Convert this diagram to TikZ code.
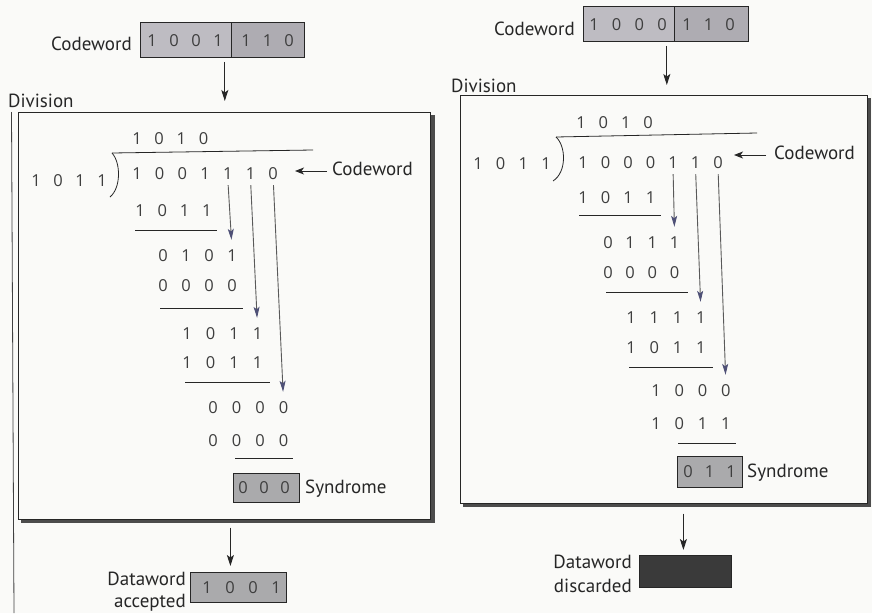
\documentclass[tikz,border=0pt]{standalone}
\usepackage{fontspec}
\setmainfont{PT Sans}
\newfontfamily\bitfont{Open Sans}
\usetikzlibrary{arrows.meta,calc}

\definecolor{paper}{RGB}{250,250,248}
\definecolor{ink}{RGB}{38,38,38}
\definecolor{digitink}{RGB}{62,62,62}
\definecolor{slate}{RGB}{78,80,118}
\definecolor{cellfill}{RGB}{190,188,194}
\definecolor{crcfill}{RGB}{174,172,178}
\definecolor{synfill}{RGB}{170,170,172}
\definecolor{dropfill}{RGB}{58,58,58}

% a row of bits, named <prefix>-1, <prefix>-2, ...
\newcommand\bitrow[5]{%
  \foreach \b [count=\k] in {#5}{\node[bit] (#1-\k) at ({#2+(\k-1)*#4},#3) {\b};}}

\begin{document}
\begin{tikzpicture}[x=1pt,y=-1pt,
  lbl/.style={font=\fontsize{19}{22}\selectfont, text=ink, inner sep=0pt},
  bit/.style={font=\bitfont\fontsize{16.5}{20}\selectfont, text=digitink, inner sep=0pt,
              text height=12pt, text depth=0pt},
  cell/.style={draw=ink, line width=0.8pt, fill=cellfill, inner sep=0pt},
  panel/.style={draw=ink, line width=1pt, inner sep=0pt},
  rim/.style={draw=black!70, line width=3.5pt},
  rule/.style={draw=ink, line width=0.8pt},
  flow/.style={draw=ink, line width=1pt, -{Stealth[length=11pt,width=7pt,inset=2.5pt]}},
  pointer/.style={draw=ink, line width=1pt, -{Stealth[length=9pt,width=7pt,inset=2.5pt]}},
  carry/.style={draw=black!65, line width=0.9pt, shorten <=6pt, shorten >=9pt,
                -{Stealth[length=11pt,width=6pt,inset=2.5pt,color=slate,fill=slate]}},
]
\fill[paper] (0,0) rectangle (872,613);
\useasboundingbox (0,0) rectangle (872,613);

% ================= left: codeword 1001110, no error =================
\node[lbl, anchor=base east] (Lcwlbl) at (132,50) {Codeword};
\node[cell, minimum width=91, minimum height=35, anchor=north west] (Lcw-data) at (140,22) {};
\node[cell, fill=crcfill, minimum width=73, minimum height=35, anchor=north west] (Lcw-crc) at (231,22) {};
\bitrow{Lcwd}{152}{40}{22}{1,0,0,1}
\bitrow{Lcwc}{246}{40}{21.5}{1,1,0}

\node[lbl, anchor=base west] (Ldivlbl) at (8,107) {Division};
\node[panel, minimum width=412.5, minimum height=406.5, anchor=north west] (Lframe) at (17.5,112) {};
\draw[rim] ($(Lframe.north east)+(2,3)$) -- ($(Lframe.south east)+(2,2)$) -- ($(Lframe.south west)+(3,2)$);
\coordinate (Lmargin) at (14,613);
\draw[black!75, line width=0.8pt] ($(Lframe.north west)+(-6,0)$) -- (Lmargin);

\draw[flow] ($(Lcw-data.south east)+(-7,4)$) -- ($(Lcw-data.south east |- Lframe.north)+(-7,-11)$);

% long division
\bitrow{Lq}{137}{138}{22.2}{1,0,1,0}
\bitrow{Ldr}{36}{180}{22}{1,0,1,1}
\bitrow{Ldv}{137}{173}{22.7}{1,0,0,1,1,1,0}
\draw[rule] (112,153) -- (313,150);
\draw[rule] (112,153) .. controls (121,163) and (121,188) .. (110,197);
\node[lbl, anchor=base west] (Lnote) at (332,175) {Codeword};
\draw[pointer] ($(Lnote.base west)+(-5,-4)$) -- ($(Lnote.base west)+(-37,-4)$);

\bitrow{L2}{140}{210}{22.3}{1,0,1,1}
\draw[rule] (135,230) -- (217,230);
\bitrow{L3}{163}{255}{23}{0,1,0,1}
\bitrow{L4}{163}{285}{23}{0,0,0,0}
\draw[rule] (160,308) -- (243,308);
\bitrow{L5}{187}{333}{23.5}{1,0,1,1}
\bitrow{L6}{187}{362}{23.5}{1,0,1,1}
\draw[rule] (185,382) -- (270,382);
\bitrow{L7}{213}{407}{23.5}{0,0,0,0}
\bitrow{L8}{213}{440}{23.5}{0,0,0,0}
\draw[rule] (235,458) -- (293,458);

\draw[carry] (Ldv-5.south) -- (L3-4.north);
\draw[carry] (Ldv-6.south) -- (L5-4.north);
\draw[carry] (Ldv-7.south) -- (L7-4.north);

\node[cell, fill=synfill, minimum width=66, minimum height=29] (Lsyn) at (266,487.5) {};
\bitrow{Ls}{243}{487}{21}{0,0,0}
\node[lbl, anchor=base west] (Lsynlbl) at (305,493) {Syndrome};

% result
\node[cell, fill=synfill, minimum width=96, minimum height=30, anchor=north west] (Ldw) at (190,572) {};
\bitrow{Ldwb}{207}{587}{23}{1,0,0,1}
\node[lbl, anchor=base east] (Ldwlbl1) at (186,585) {Dataword};
\node[lbl, anchor=base east] (Ldwlbl2) at (186,607) {accepted};
\draw[flow] ($(Lframe.south west -| Ldw.north)+(-8,8)$) -- ($(Ldw.north)+(-8,-6)$);

% ================= right: codeword 1000110, corrupted =================
\node[lbl, anchor=base east] (Rcwlbl) at (575,35) {Codeword};
\node[cell, minimum width=91, minimum height=35, anchor=north west] (Rcw-data) at (583,6) {};
\node[cell, fill=crcfill, minimum width=74, minimum height=35, anchor=north west] (Rcw-crc) at (674,6) {};
\bitrow{Rcwd}{594}{24}{22.7}{1,0,0,0}
\bitrow{Rcwc}{687}{24}{21.5}{1,1,0}

\node[lbl, anchor=base west] (Rdivlbl) at (451,92) {Division};
\node[panel, minimum width=407, minimum height=407.5, anchor=north west] (Rframe) at (459.5,95) {};
\draw[rim] ($(Rframe.north east)+(2,3)$) -- ($(Rframe.south east)+(2,2)$) -- ($(Rframe.south west)+(3,2)$);

\draw[flow] ($(Rcw-data.south east)+(-8,4)$) -- ($(Rcw-data.south east |- Rframe.north)+(-8,-10)$);

% long division
\bitrow{Rq}{581}{122}{22.4}{1,0,1,0}
\bitrow{Rdr}{478}{163}{22.7}{1,0,1,1}
\bitrow{Rdv}{583}{162}{22.5}{1,0,0,0,1,1,0}
\draw[rule] (556,137) -- (757,133);
\draw[rule] (556,137) .. controls (566,146) and (567,172) .. (553,181);
\node[lbl, anchor=base west] (Rnote) at (774,159) {Codeword};
\draw[pointer] ($(Rnote.base west)+(-8,-4)$) -- ($(Rnote.base west)+(-40,-4)$);

\bitrow{R2}{583}{197}{22.5}{1,0,1,1}
\draw[rule] (579,215) -- (661,215);
\bitrow{R3}{608}{242}{22.2}{0,1,1,1}
\bitrow{R4}{608}{272}{22.2}{0,0,0,0}
\draw[rule] (606,292) -- (688,292);
\bitrow{R5}{631}{317}{23.3}{1,1,1,1}
\bitrow{R6}{631}{347}{23.3}{1,0,1,1}
\draw[rule] (629,367) -- (713,367);
\bitrow{R7}{656}{390}{23.3}{1,0,0,0}
\bitrow{R8}{656}{423}{23.3}{1,0,1,1}
\draw[rule] (678,443) -- (736,443);

\draw[carry] (Rdv-5.south) -- (R3-4.north);
\draw[carry] (Rdv-6.south) -- (R5-4.north);
\draw[carry] (Rdv-7.south) -- (R7-4.north);

\node[cell, fill=synfill, minimum width=65, minimum height=31] (Rsyn) at (709.5,471.5) {};
\bitrow{Rs}{688}{471}{21.5}{0,1,1}
\node[lbl, anchor=base west] (Rsynlbl) at (747,477) {Syndrome};

% result
\node[draw=ink, line width=0.8pt, fill=dropfill, minimum width=92, minimum height=32, anchor=north west] (Rdw) at (639,555) {};
\node[lbl, anchor=base east] (Rdwlbl1) at (632,568) {Dataword};
\node[lbl, anchor=base east] (Rdwlbl2) at (632,592) {discarded};
\draw[flow] ($(Rframe.south west -| Rdw.north)+(-2,10)$) -- ($(Rdw.north)+(-2,-5)$);
\end{tikzpicture}
\end{document}
